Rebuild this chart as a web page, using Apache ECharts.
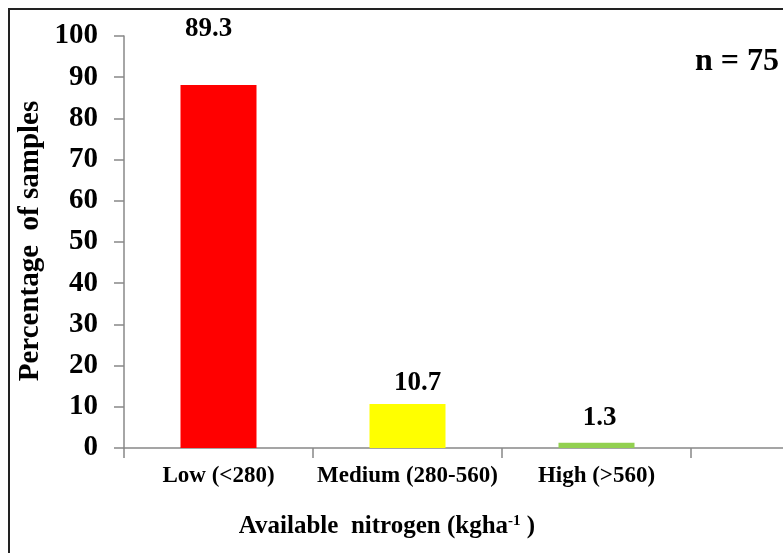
<!DOCTYPE html>
<html><head><meta charset="utf-8">
<script src="https://cdn.jsdelivr.net/npm/echarts@6/dist/echarts.min.js"></script>
<style>html,body{margin:0;padding:0;background:#fff}#c{width:783px;height:553px}</style>
</head><body><div id="c"></div>
<script>
const categories = ['Low (<280)', 'Medium (280-560)', 'High (>560)', ''];
const barHeights = [88.1, 10.7, 1.3];
const barLabels = ['89.3', '10.7', '1.3'];
const yTicks = { min: 0, max: 100, interval: 10 };
const colors = ['#FF0000', '#FFFF00', '#92D050'];
const labelGap = [42, 7, 11];
const labelShift = [-10, 10, 3];
const F = 'Liberation Serif, Times New Roman, serif';

const chart = echarts.init(document.getElementById('c'), null, { renderer: 'canvas' });
chart.setOption({
  animation: false,
  backgroundColor: '#fff',
  grid: { left: 124, top: 36, bottom: 105, width: 756, outerBoundsMode: 'none', containLabel: false },
  xAxis: {
    type: 'category', data: categories,
    axisLine: { lineStyle: { color: '#888', width: 1.5 } },
    axisTick: { show: true, length: 10, alignWithLabel: false, lineStyle: { color: '#888', width: 1.5 } },
    axisLabel: { margin: 17, color: '#000', fontFamily: F, fontWeight: 'bold', fontSize: 23, interval: 0 }
  },
  yAxis: {
    type: 'value', min: yTicks.min, max: yTicks.max, interval: yTicks.interval,
    splitLine: { show: false },
    axisLine: { show: true, lineStyle: { color: '#888', width: 1.5 } },
    axisTick: { show: true, length: 10, lineStyle: { color: '#888', width: 1.5 } },
    axisLabel: { margin: 26, color: '#000', fontFamily: F, fontWeight: 'bold', fontSize: 29 }
  },
  series: [{
    type: 'bar', barWidth: 76,
    data: barHeights.map((v, i) => ({
      value: v,
      itemStyle: { color: colors[i] },
      label: { show: true, position: 'top', distance: labelGap[i], offset: [labelShift[i], 0], formatter: barLabels[i],
        color: '#000', fontFamily: F, fontWeight: 'bold', fontSize: 27 }
    }))
  }],
  graphic: [
    { type: 'rect', shape: { x: 9, y: 9, width: 900, height: 700 }, style: { fill: null, stroke: '#222', lineWidth: 2 }, silent: true },
    { type: 'text', x: 737, y: 62, style: { text: 'n = 75', fontFamily: F, fontWeight: 'bold', fontSize: 32, fill: '#000', textAlign: 'center', textVerticalAlign: 'middle' } },
    { type: 'text', x: 31, y: 241, rotation: Math.PI / 2, style: { text: 'Percentage  of samples', fontFamily: F, fontWeight: 'bold', fontSize: 29, fill: '#000', textAlign: 'center', textVerticalAlign: 'middle' } },
    { type: 'text', x: 387, y: 527, style: {
      text: '{a|Available  nitrogen (kgha}{s|-1}{a| )}',
      rich: { a: { fontFamily: F, fontWeight: 'bold', fontSize: 25, color: '#000' }, s: { fontFamily: F, fontWeight: 'bold', fontSize: 15, color: '#000', verticalAlign: 'top', padding: [0, 0, 12, 0] } },
      textAlign: 'center', textVerticalAlign: 'middle' } }
  ]
});
</script></body></html>
